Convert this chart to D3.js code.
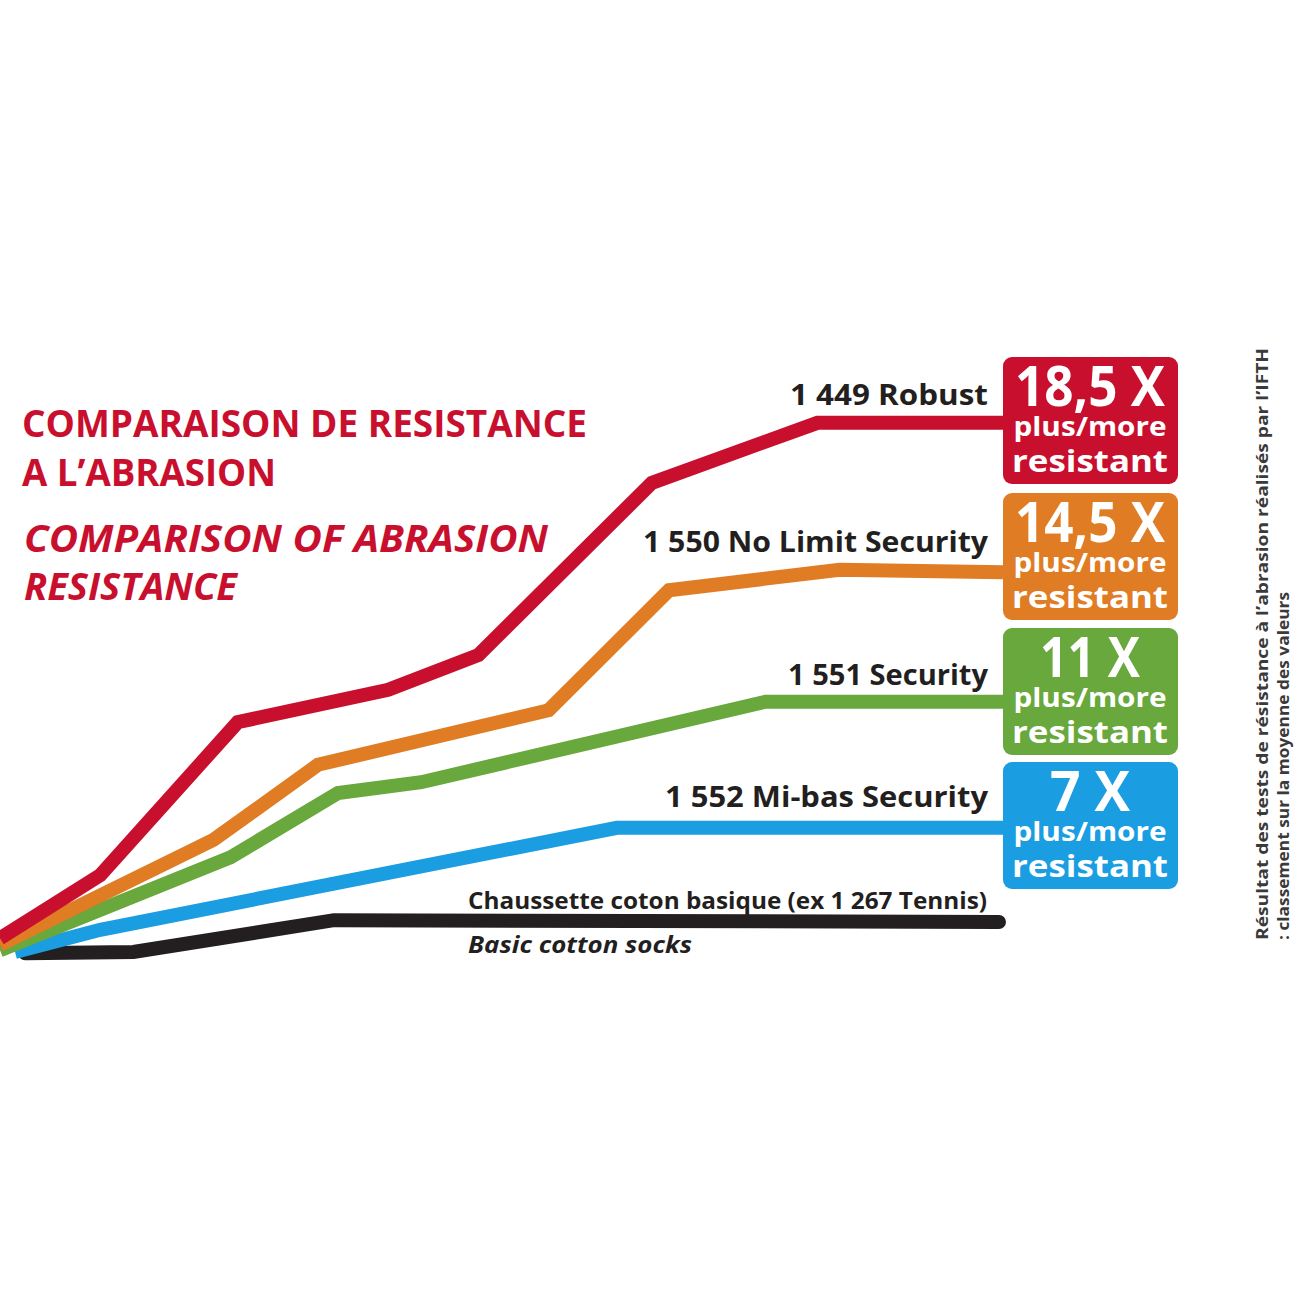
<!DOCTYPE html>
<html>
<head>
<meta charset="utf-8">
<script src="https://cdn.jsdelivr.net/npm/d3@7"></script>
<style>
  body { margin: 0; background: #fff; }
  text { font-family: "Open Sans", "Liberation Sans", sans-serif; font-weight: 700; }
</style>
</head>
<body>
<script>
// series labels and factors
var seriesNames = ["1 449 Robust", "1 550 No Limit Security", "1 551 Security", "1 552 Mi-bas Security", "Chaussette coton basique (ex 1 267 Tennis)"];
var factors = ["18,5 X", "14,5 X", "11 X", "7 X"];
var colors = ["#c8102e", "#e07c24", "#68a83c", "#1b9de2", "#231f20"];

// points (x = test progress, y = resistance)
var robustX = [0, 10, 23.7, 38.7, 47.7, 65, 81.5, 100];
var robustY = [3.3, 13.8, 39.3, 44.7, 50.5, 79.2, 89.2, 89.2];
var noLimitX = [0, 21.3, 31.7, 54.7, 66.7, 83.7, 100];
var noLimitY = [2.2, 19.7, 32.2, 41.3, 61.3, 64.7, 64.3];
var securityX = [0, 23, 33.7, 42, 76.3, 100];
var securityY = [1.3, 16.8, 27.5, 29.3, 42.7, 42.7];
var miBasX = [1.5, 10, 61.5, 100];
var miBasY = [1, 4.7, 21.7, 21.7];
var cottonX = [2.5, 13.3, 33.3, 99.6];
var cottonY = [0.8, 1, 6.3, 6];

function init(){
    var w = 1300;
    var h = 1300;

    var svg = d3.select("body")
                .append("svg")
                .attr("width", w)
                .attr("height", h);

    var x = d3.scaleLinear().domain([0, 100]).range([0, 1003]);
    var y = d3.scaleLinear().domain([0, 100]).range([958, 358]);

    var series = [
        {x: robustX, y: robustY},
        {x: noLimitX, y: noLimitY},
        {x: securityX, y: securityY},
        {x: miBasX, y: miBasY},
        {x: cottonX, y: cottonY}
    ];

    var line = d3.line()
                 .x(function(d){ return x(d[0]); })
                 .y(function(d){ return y(d[1]); });

    // title
    var title = svg.append("g").attr("fill", "#c8102e");
    title.append("text").attr("x", 22).attr("y", 437).attr("font-size", 37)
         .attr("textLength", 565).attr("lengthAdjust", "spacingAndGlyphs")
         .text("COMPARAISON DE RESISTANCE");
    title.append("text").attr("x", 22).attr("y", 486).attr("font-size", 37)
         .attr("textLength", 254).attr("lengthAdjust", "spacingAndGlyphs")
         .text("A L\u2019ABRASION");
    title.append("text").attr("x", 24).attr("y", 552).attr("font-size", 37)
         .attr("font-style", "italic")
         .attr("textLength", 524).attr("lengthAdjust", "spacingAndGlyphs")
         .text("COMPARISON OF ABRASION");
    title.append("text").attr("x", 24).attr("y", 600).attr("font-size", 37)
         .attr("font-style", "italic")
         .attr("textLength", 213).attr("lengthAdjust", "spacingAndGlyphs")
         .text("RESISTANCE");

    // lines, lowest drawn first
    var order = [4, 3, 2, 1, 0];
    svg.selectAll("path.serie")
       .data(order)
       .enter()
       .append("path")
       .attr("class", "serie")
       .attr("fill", "none")
       .attr("stroke", function(i){ return colors[i]; })
       .attr("stroke-width", 14)
       .attr("stroke-linecap", function(i){ return i == 4 ? "round" : "butt"; })
       .attr("stroke-linejoin", "miter")
       .attr("d", function(i){
           var s = series[i];
           return line(s.x.map(function(v, k){ return [v, s.y[k]]; }));
       });

    // series labels
    var labelY = [405, 552, 685, 807];
    var labelW = [198, 345, 200, 323];
    svg.selectAll("text.lab")
       .data(seriesNames.slice(0, 4))
       .enter()
       .append("text")
       .attr("class", "lab")
       .attr("x", 988)
       .attr("y", function(d, i){ return labelY[i]; })
       .attr("text-anchor", "end")
       .attr("font-size", 29)
       .attr("fill", "#231f20")
       .attr("textLength", function(d, i){ return labelW[i]; })
       .attr("lengthAdjust", "spacingAndGlyphs")
       .text(function(d){ return d; });

    svg.append("text").attr("x", 468).attr("y", 909).attr("font-size", 24)
       .attr("fill", "#231f20")
       .attr("textLength", 519).attr("lengthAdjust", "spacingAndGlyphs")
       .text(seriesNames[4]);
    svg.append("text").attr("x", 468).attr("y", 953).attr("font-size", 24)
       .attr("font-style", "italic").attr("fill", "#231f20")
       .attr("textLength", 224).attr("lengthAdjust", "spacingAndGlyphs")
       .text("Basic cotton socks");

    // factor boxes
    var boxTop = [357, 493, 628, 762];
    var bigW = [150, 150, 100, 80];
    var boxes = svg.selectAll("g.box")
                   .data(factors)
                   .enter()
                   .append("g")
                   .attr("class", "box")
                   .attr("transform", function(d, i){ return "translate(1003," + boxTop[i] + ")"; });

    boxes.append("rect")
         .attr("width", 175)
         .attr("height", 127)
         .attr("rx", 9)
         .attr("fill", function(d, i){ return colors[i]; });

    boxes.append("text")
         .attr("x", 87).attr("y", 49)
         .attr("text-anchor", "middle")
         .attr("font-size", 56)
         .attr("fill", "#fff")
         .attr("textLength", function(d, i){ return bigW[i]; })
         .attr("lengthAdjust", "spacingAndGlyphs")
         .text(function(d){ return d; });
    boxes.append("text")
         .attr("x", 87).attr("y", 79)
         .attr("text-anchor", "middle")
         .attr("font-size", 27)
         .attr("fill", "#fff")
         .attr("textLength", 153)
         .attr("lengthAdjust", "spacingAndGlyphs")
         .text("plus/more");
    boxes.append("text")
         .attr("x", 87).attr("y", 115)
         .attr("text-anchor", "middle")
         .attr("font-size", 31)
         .attr("fill", "#fff")
         .attr("textLength", 156)
         .attr("lengthAdjust", "spacingAndGlyphs")
         .text("resistant");

    // footnote, vertical
    var note = svg.append("g").attr("fill", "#3a3a3a");
    note.append("text")
        .attr("transform", "translate(1268,940) rotate(-90)")
        .attr("font-size", 16)
        .attr("textLength", 592).attr("lengthAdjust", "spacingAndGlyphs")
        .text("R\u00e9sultat des tests de r\u00e9sistance \u00e0 l\u2019abrasion r\u00e9alis\u00e9s par l\u2019IFTH");
    note.append("text")
        .attr("transform", "translate(1289,940) rotate(-90)")
        .attr("font-size", 16)
        .attr("textLength", 348).attr("lengthAdjust", "spacingAndGlyphs")
        .text(": classement sur la moyenne des valeurs");
}
window.onload = init;
</script>
</body>
</html>
